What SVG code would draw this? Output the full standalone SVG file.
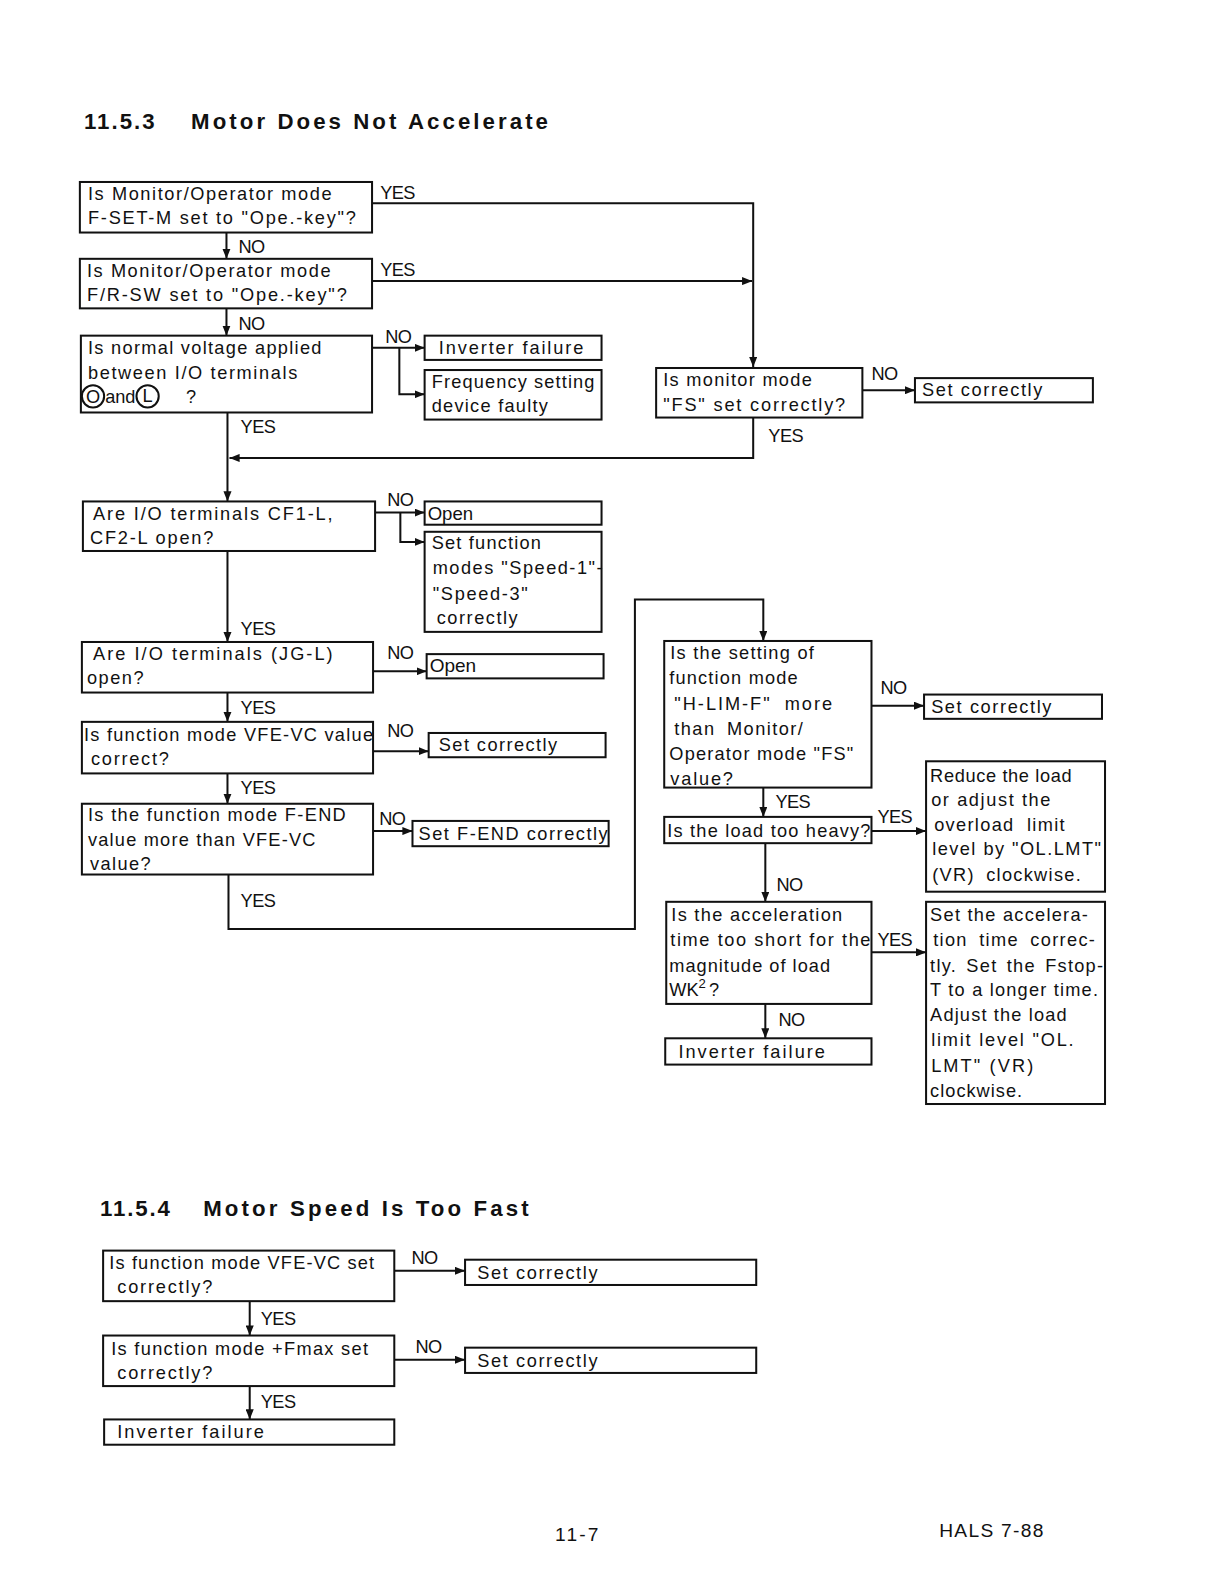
<svg xmlns="http://www.w3.org/2000/svg" width="1224" height="1584" viewBox="0 0 1224 1584">
<defs>
<marker id="ah" markerWidth="10" markerHeight="8" refX="10" refY="4" orient="auto" markerUnits="userSpaceOnUse">
<path d="M0,0 L10,4 L0,8 z" fill="#111"/>
</marker>
<style>
.bx{fill:#fff;stroke:#111;stroke-width:2}
.t{font-family:"Liberation Sans",Arial,sans-serif;font-size:18px;fill:#111}
.lb{font-family:"Liberation Sans",Arial,sans-serif;font-size:18px;fill:#111;letter-spacing:-0.6px}
.h{font-family:"Liberation Sans",Arial,sans-serif;font-size:22px;font-weight:bold;fill:#111}
.ca{fill:none;stroke:#111;stroke-width:2;marker-end:url(#ah)}
.ft{font-family:"Liberation Sans",Arial,sans-serif;font-size:19px;fill:#111}
.cir{fill:none;stroke:#111;stroke-width:2}
</style>
</defs>
<rect width="1224" height="1584" fill="#fff"/>
<g transform="scale(1.011)">

<text class="h" x="83" y="128" textLength="70" lengthAdjust="spacing">11.5.3</text>
<text class="h" x="189" y="128" textLength="353" lengthAdjust="spacing">Motor Does Not Accelerate</text>

<g id="connectors">
<polyline class="ca" points="368,201 745,201 745,363"/>
<line class="ca" x1="368" y1="278" x2="744" y2="278"/>
<line class="ca" x1="224" y1="230" x2="224" y2="256"/>
<line class="ca" x1="224" y1="305" x2="224" y2="332"/>
<line class="ca" x1="368" y1="344" x2="420" y2="344"/>
<polyline class="ca" points="395,344 395,390 420,390"/>
<line class="ca" x1="225" y1="408" x2="225" y2="496"/>
<polyline class="ca" points="745,413 745,453 227,453"/>
<line class="ca" x1="853" y1="386" x2="905" y2="386"/>
<line class="ca" x1="371" y1="507" x2="420" y2="507"/>
<polyline class="ca" points="396,507 396,536 420,536"/>
<line class="ca" x1="225" y1="545" x2="225" y2="635"/>
<line class="ca" x1="369" y1="664" x2="422" y2="664"/>
<line class="ca" x1="225" y1="685" x2="225" y2="714"/>
<line class="ca" x1="369" y1="743" x2="424" y2="743"/>
<line class="ca" x1="225" y1="765" x2="225" y2="795"/>
<line class="ca" x1="369" y1="822" x2="408" y2="822"/>
<polyline class="ca" points="226,865 226,919 628,919 628,593 755,593 755,634"/>
<line class="ca" x1="862" y1="698" x2="914" y2="698"/>
<line class="ca" x1="755" y1="779" x2="755" y2="808"/>
<line class="ca" x1="862" y1="822" x2="916" y2="822"/>
<line class="ca" x1="757" y1="834" x2="757" y2="892"/>
<line class="ca" x1="862" y1="942" x2="916" y2="942"/>
<line class="ca" x1="757" y1="993" x2="757" y2="1027"/>
<line class="ca" x1="390" y1="1257" x2="460" y2="1257"/>
<line class="ca" x1="247" y1="1287" x2="247" y2="1321"/>
<line class="ca" x1="390" y1="1345" x2="460" y2="1345"/>
<line class="ca" x1="247" y1="1371" x2="247" y2="1404"/>

<text class="lb" x="376" y="197">YES</text>
<text class="lb" x="236" y="250">NO</text>
<text class="lb" x="376" y="273">YES</text>
<text class="lb" x="236" y="326">NO</text>
<text class="lb" x="381" y="339">NO</text>
<text class="lb" x="238" y="428">YES</text>
<text class="lb" x="862" y="376">NO</text>
<text class="lb" x="760" y="437">YES</text>
<text class="lb" x="383" y="500">NO</text>
<text class="lb" x="238" y="628">YES</text>
<text class="lb" x="383" y="652">NO</text>
<text class="lb" x="238" y="706">YES</text>
<text class="lb" x="383" y="729">NO</text>
<text class="lb" x="238" y="785">YES</text>
<text class="lb" x="375" y="816">NO</text>
<text class="lb" x="238" y="897">YES</text>
<text class="lb" x="871" y="686">NO</text>
<text class="lb" x="767" y="799">YES</text>
<text class="lb" x="868" y="814">YES</text>
<text class="lb" x="768" y="881">NO</text>
<text class="lb" x="868" y="936">YES</text>
<text class="lb" x="770" y="1015">NO</text>
<text class="lb" x="407" y="1250">NO</text>
<text class="lb" x="258" y="1311">YES</text>
<text class="lb" x="411" y="1338">NO</text>
<text class="lb" x="258" y="1393">YES</text>
</g>

<g id="q1"><rect class="bx" x="79" y="180" width="289" height="50"/>
<text class="t" x="87" y="198" textLength="241" lengthAdjust="spacing">Is Monitor/Operator mode</text>
<text class="t" x="87" y="222" textLength="265" lengthAdjust="spacing">F-SET-M set to "Ope.-key"?</text></g>

<g id="q2"><rect class="bx" x="79" y="256" width="289" height="49"/>
<text class="t" x="86" y="274" textLength="241" lengthAdjust="spacing">Is Monitor/Operator mode</text>
<text class="t" x="86" y="298" textLength="257" lengthAdjust="spacing">F/R-SW set to "Ope.-key"?</text></g>

<g id="q3"><rect class="bx" x="80" y="332" width="288" height="76"/>
<text class="t" x="87" y="350" textLength="231" lengthAdjust="spacing">Is normal voltage applied</text>
<text class="t" x="87" y="375" textLength="207" lengthAdjust="spacing">between I/O terminals</text>
<circle class="cir" cx="92" cy="392" r="11"/>
<text class="t" x="92" y="399" text-anchor="middle">O</text>
<text class="t" x="104" y="399" textLength="30" lengthAdjust="spacingAndGlyphs">and</text>
<circle class="cir" cx="146" cy="392" r="11"/>
<text class="t" x="146" y="398" text-anchor="middle">L</text>
<text class="t" x="184" y="399">?</text></g>

<g id="r-inv1"><rect class="bx" x="420" y="332" width="175" height="24"/>
<text class="t" x="434" y="350" textLength="143" lengthAdjust="spacing">Inverter failure</text></g>

<g id="r-freq"><rect class="bx" x="420" y="366" width="175" height="49"/>
<text class="t" x="427" y="384" textLength="161" lengthAdjust="spacing">Frequency setting</text>
<text class="t" x="427" y="408" textLength="115" lengthAdjust="spacing">device faulty</text></g>

<g id="q-fs"><rect class="bx" x="649" y="364" width="204" height="49"/>
<text class="t" x="656" y="382" textLength="147" lengthAdjust="spacing">Is monitor mode</text>
<text class="t" x="656" y="407" textLength="180" lengthAdjust="spacing">"FS" set correctly?</text></g>

<g id="r-set1"><rect class="bx" x="905" y="374" width="176" height="24"/>
<text class="t" x="912" y="392" textLength="119" lengthAdjust="spacing">Set correctly</text></g>

<g id="q4"><rect class="bx" x="82" y="496" width="289" height="49"/>
<text class="t" x="92" y="514" textLength="237" lengthAdjust="spacing">Are I/O terminals CF1-L,</text>
<text class="t" x="89" y="538" textLength="122" lengthAdjust="spacing">CF2-L open?</text></g>

<g id="r-open1"><rect class="bx" x="420" y="496" width="175" height="23"/>
<text class="t" x="423" y="514" textLength="45" lengthAdjust="spacingAndGlyphs">Open</text></g>

<g id="r-speed"><rect class="bx" x="420" y="526" width="175" height="99"/>
<text class="t" x="427" y="543" textLength="108" lengthAdjust="spacing">Set function</text>
<text class="t" x="428" y="568" textLength="168" lengthAdjust="spacing">modes "Speed-1"-</text>
<text class="t" x="428" y="593" textLength="94" lengthAdjust="spacing">"Speed-3"</text>
<text class="t" x="432" y="617" textLength="80" lengthAdjust="spacing">correctly</text></g>

<g id="q5"><rect class="bx" x="81" y="635" width="288" height="50"/>
<text class="t" x="92" y="653" textLength="237" lengthAdjust="spacing">Are I/O terminals (JG-L)</text>
<text class="t" x="86" y="677" textLength="56" lengthAdjust="spacing">open?</text></g>

<g id="r-open2"><rect class="bx" x="422" y="647" width="175" height="24"/>
<text class="t" x="425" y="665" textLength="46" lengthAdjust="spacingAndGlyphs">Open</text></g>

<g id="q6"><rect class="bx" x="81" y="714" width="288" height="51"/>
<text class="t" x="83" y="733" textLength="286" lengthAdjust="spacing">Is function mode VFE-VC value</text>
<text class="t" x="90" y="757" textLength="77" lengthAdjust="spacing">correct?</text></g>

<g id="r-set2"><rect class="bx" x="424" y="725" width="175" height="24"/>
<text class="t" x="434" y="743" textLength="117" lengthAdjust="spacing">Set correctly</text></g>

<g id="q7"><rect class="bx" x="81" y="795" width="288" height="70"/>
<text class="t" x="87" y="812" textLength="255" lengthAdjust="spacing">Is the function mode F-END</text>
<text class="t" x="87" y="837" textLength="225" lengthAdjust="spacing">value more than VFE-VC</text>
<text class="t" x="89" y="861" textLength="60" lengthAdjust="spacing">value?</text></g>

<g id="r-fend"><rect class="bx" x="408" y="812" width="194" height="25"/>
<text class="t" x="414" y="831" textLength="187" lengthAdjust="spacing">Set F-END correctly</text></g>

<g id="q-hlim"><rect class="bx" x="657" y="634" width="205" height="145"/>
<text class="t" x="663" y="652" textLength="142" lengthAdjust="spacing">Is the setting of</text>
<text class="t" x="662" y="677" textLength="127" lengthAdjust="spacing">function mode</text>
<text class="t" x="667" y="702" textLength="156" lengthAdjust="spacing" word-spacing="6">"H-LIM-F" more</text>
<text class="t" x="667" y="727" textLength="127" lengthAdjust="spacing" word-spacing="5">than Monitor/</text>
<text class="t" x="662" y="752" textLength="182" lengthAdjust="spacing">Operator mode "FS"</text>
<text class="t" x="663" y="776" textLength="62" lengthAdjust="spacing">value?</text></g>

<g id="r-set3"><rect class="bx" x="914" y="687" width="176" height="24"/>
<text class="t" x="921" y="705" textLength="119" lengthAdjust="spacing">Set correctly</text></g>

<g id="q-load"><rect class="bx" x="657" y="808" width="205" height="26"/>
<text class="t" x="660" y="828" textLength="201" lengthAdjust="spacing">Is the load too heavy?</text></g>

<g id="r-reduce"><rect class="bx" x="916" y="753" width="177" height="129"/>
<text class="t" x="920" y="773" textLength="140" lengthAdjust="spacing">Reduce the load</text>
<text class="t" x="921" y="797" textLength="118" lengthAdjust="spacing">or adjust the</text>
<text class="t" x="924" y="822" textLength="129" lengthAdjust="spacing" word-spacing="6">overload limit</text>
<text class="t" x="922" y="846" textLength="167" lengthAdjust="spacing">level by "OL.LMT"</text>
<text class="t" x="922" y="871" textLength="147" lengthAdjust="spacing" word-spacing="5">(VR) clockwise.</text></g>

<g id="q-accel"><rect class="bx" x="659" y="892" width="203" height="101"/>
<text class="t" x="664" y="911" textLength="169" lengthAdjust="spacing">Is the acceleration</text>
<text class="t" x="663" y="936" textLength="198" lengthAdjust="spacing">time too short for the</text>
<text class="t" x="662" y="961" textLength="159" lengthAdjust="spacing">magnitude of load</text>
<text class="t" x="662" y="985">WK<tspan font-size="13" dy="-8">2</tspan><tspan dy="8" dx="3">?</tspan></text></g>

<g id="r-accel"><rect class="bx" x="916" y="892" width="177" height="200"/>
<text class="t" x="920" y="911" textLength="156" lengthAdjust="spacing">Set the accelera-</text>
<text class="t" x="923" y="936" textLength="160" lengthAdjust="spacing" word-spacing="5">tion time correc-</text>
<text class="t" x="920" y="961" textLength="171" lengthAdjust="spacing" word-spacing="3">tly. Set the Fstop-</text>
<text class="t" x="920" y="985" textLength="166" lengthAdjust="spacing">T to a longer time.</text>
<text class="t" x="920" y="1010" textLength="135" lengthAdjust="spacing">Adjust the load</text>
<text class="t" x="921" y="1035" textLength="141" lengthAdjust="spacing">limit level "OL.</text>
<text class="t" x="921" y="1060" textLength="101" lengthAdjust="spacing">LMT" (VR)</text>
<text class="t" x="920" y="1085" textLength="91" lengthAdjust="spacing">clockwise.</text></g>

<g id="r-inv2"><rect class="bx" x="658" y="1027" width="204" height="26"/>
<text class="t" x="671" y="1046" textLength="145" lengthAdjust="spacing">Inverter failure</text></g>

<text class="h" x="99" y="1203" textLength="69" lengthAdjust="spacing">11.5.4</text>
<text class="h" x="201" y="1203" textLength="322" lengthAdjust="spacing">Motor Speed Is Too Fast</text>

<g id="s2-q1"><rect class="bx" x="102" y="1237" width="288" height="50"/>
<text class="t" x="108" y="1255" textLength="262" lengthAdjust="spacing">Is function mode VFE-VC set</text>
<text class="t" x="116" y="1279" textLength="94" lengthAdjust="spacing">correctly?</text></g>

<g id="s2-r1"><rect class="bx" x="460" y="1246" width="288" height="25"/>
<text class="t" x="472" y="1265" textLength="119" lengthAdjust="spacing">Set correctly</text></g>

<g id="s2-q2"><rect class="bx" x="102" y="1321" width="288" height="50"/>
<text class="t" x="110" y="1340" textLength="254" lengthAdjust="spacing">Is function mode +Fmax set</text>
<text class="t" x="116" y="1364" textLength="94" lengthAdjust="spacing">correctly?</text></g>

<g id="s2-r2"><rect class="bx" x="460" y="1333" width="288" height="25"/>
<text class="t" x="472" y="1352" textLength="119" lengthAdjust="spacing">Set correctly</text></g>

<g id="s2-inv"><rect class="bx" x="103" y="1404" width="287" height="25"/>
<text class="t" x="116" y="1422" textLength="145" lengthAdjust="spacing">Inverter failure</text></g>

<text class="ft" x="549" y="1524" textLength="43" lengthAdjust="spacing">11-7</text>
<text class="ft" x="929" y="1520" textLength="103" lengthAdjust="spacing">HALS 7-88</text>
</g>
</svg>
